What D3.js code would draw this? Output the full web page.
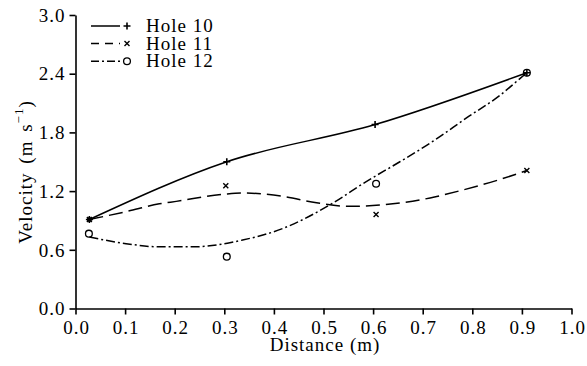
<!DOCTYPE html>
<html><head><meta charset="utf-8">
<script src="https://cdn.jsdelivr.net/npm/d3@7"></script>
<style>body{margin:0;background:#fff}svg{display:block}</style>
</head><body><svg id="c" width="587" height="366"></svg>
<script>
// measured points
const hole10X = [0.028, 0.305, 0.604, 0.91];
const hole10Y = [0.91, 1.50, 1.88, 2.41];
const hole11X = [0.028, 0.303, 0.606, 0.91];
const hole11Y = [0.91, 1.255, 0.96, 1.41];
const hole12X = [0.027, 0.305, 0.606, 0.91];
const hole12Y = [0.765, 0.53, 1.275, 2.41];
// fitted curves
const fit11X = [0.028, 0.102, 0.169, 0.203, 0.303, 0.338, 0.419, 0.486, 0.553, 0.621, 0.715, 0.78, 0.85, 0.91];
const fit11Y = [0.91, 0.99, 1.07, 1.095, 1.17, 1.18, 1.146, 1.08, 1.044, 1.06, 1.13, 1.21, 1.31, 1.41];
const fit12X = [0.028, 0.102, 0.169, 0.236, 0.337, 0.419, 0.513, 0.587, 0.654, 0.721, 0.789, 0.856, 0.896, 0.91];
const fit12Y = [0.73, 0.663, 0.63, 0.63, 0.70, 0.82, 1.06, 1.30, 1.50, 1.71, 1.95, 2.18, 2.35, 2.41];
const xTicks = [0,0.1,0.2,0.3,0.4,0.5,0.6,0.7,0.8,0.9,1.0];
const yTicks = [0,0.6,1.2,1.8,2.4,3.0];
const legendNames = ["Hole 10","Hole 11","Hole 12"];

const FONT = '"Liberation Serif"';
const svg = d3.select("#c");
const x = d3.scaleLinear().domain([0,1]).range([75.5,571.5]);
const y = d3.scaleLinear().domain([0,3]).range([308.5,15]);

function styleText(sel, size){
  return sel.attr("font-family",null).style("font-family",FONT).style("font-size",size+"px").style("letter-spacing","1px").attr("fill","#000");
}

const xa = svg.append("g").attr("transform","translate(0,308.5)")
  .call(d3.axisBottom(x).tickValues(xTicks).tickFormat(d3.format(".1f")).tickSize(6).tickSizeOuter(0));
const ya = svg.append("g").attr("transform","translate(75.5,0)")
  .call(d3.axisLeft(y).tickValues(yTicks).tickFormat(d3.format(".1f")).tickSize(6).tickSizeOuter(0));
[xa,ya].forEach(a=>{
  a.attr("font-family",null).attr("font-size",null);
  a.selectAll("path,line").attr("stroke","#000").attr("stroke-width",1.6);
  styleText(a.selectAll("text"),19);
});
xa.selectAll("text").attr("y",25.5).attr("dy",0).attr("dx",0.5);
ya.selectAll("text").attr("x",-10).attr("dy","0.33em");

styleText(svg.append("text").attr("x",325).attr("y",350.5).attr("text-anchor","middle"),19).text("Distance (m)");
const yl = styleText(svg.append("text").attr("transform","translate(32,172) rotate(-90)").attr("text-anchor","middle"),19)
  .style("word-spacing","3px");
yl.append("tspan").text("Velocity (m s");
yl.append("tspan").attr("dy",-9).style("font-size","13px").text("\u22121");
yl.append("tspan").attr("dy",9).text(")");

const line = d3.line().x(d=>x(d[0])).y(d=>y(d[1])).curve(d3.curveMonotoneX);
const styles = [null, "14,6", "9,3,2,3"];
const series = [
  {px:hole10X, py:hole10Y, cx:hole10X, cy:hole10Y},
  {px:hole11X, py:hole11Y, cx:fit11X, cy:fit11Y},
  {px:hole12X, py:hole12Y, cx:fit12X, cy:fit12Y}
];
function marker(g, i, cx, cy){
  if(i===0){
    g.append("path").attr("d",`M${cx-3.5},${cy}H${cx+3.5}M${cx},${cy-3.5}V${cy+3.5}`).attr("stroke","#000").attr("stroke-width",1.6);
  } else if(i===1){
    g.append("path").attr("d",`M${cx-2.5},${cy-2.5}L${cx+2.5},${cy+2.5}M${cx-2.5},${cy+2.5}L${cx+2.5},${cy-2.5}`).attr("stroke","#000").attr("stroke-width",1.4);
  } else {
    g.append("circle").attr("cx",cx).attr("cy",cy).attr("r",3.4).attr("fill","none").attr("stroke","#000").attr("stroke-width",1.3);
  }
}
series.forEach((s,i)=>{
  const pts = s.cx.map((v,k)=>[v,s.cy[k]]);
  svg.append("path").attr("d",line(pts)).attr("fill","none").attr("stroke","#000")
    .attr("stroke-width",1.5).attr("stroke-dasharray",styles[i]);
  const g = svg.append("g");
  s.px.forEach((v,k)=>marker(g,i,x(v),y(s.py[k])));
});
// filled dot at shared start
svg.append("circle").attr("cx",x(hole10X[0])).attr("cy",y(hole10Y[0])).attr("r",2.5).attr("fill","#000");

// legend
legendNames.forEach((n,i)=>{
  const ly = 26 + i*17.6;
  svg.append("line").attr("x1",91).attr("x2",120).attr("y1",ly).attr("y2",ly).attr("stroke","#000")
    .attr("stroke-width",1.5).attr("stroke-dasharray", i===0?null:(i===1?"8,6":"8,3,2,3"));
  marker(svg, i, 127, ly);
  styleText(svg.append("text").attr("x",146).attr("y",ly+6),19).text(n);
});
</script></body></html>
